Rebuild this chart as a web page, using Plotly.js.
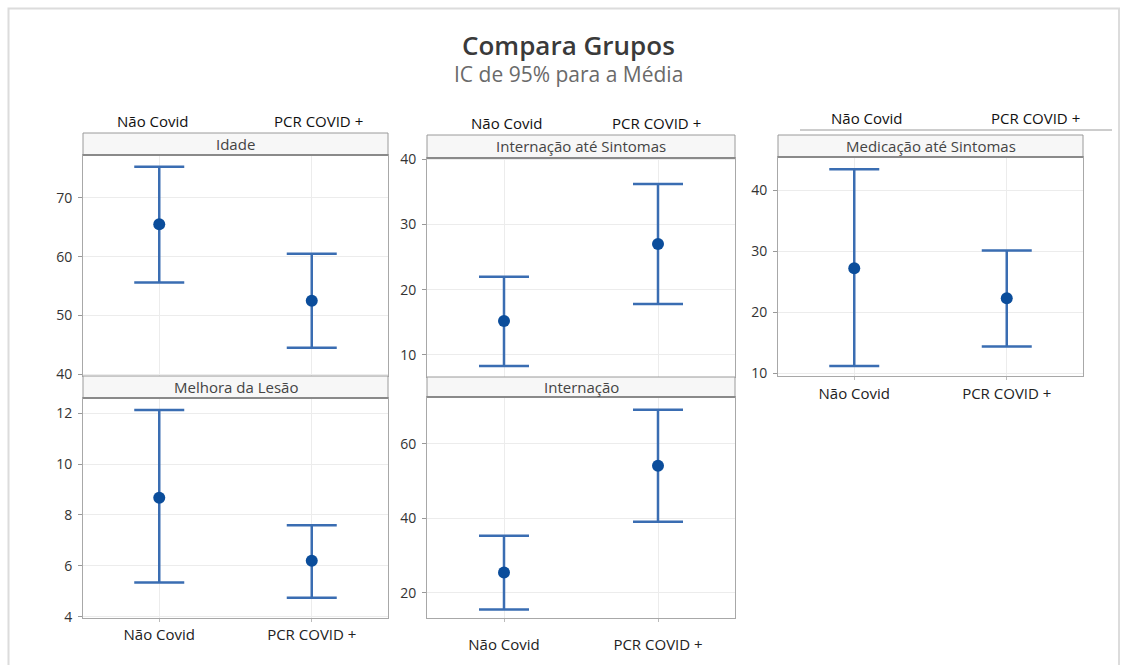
<!DOCTYPE html>
<html>
<head>
<meta charset="utf-8">
<script src="https://cdn.plot.ly/plotly-3.0.1.min.js"></script>
<style>html,body{margin:0;padding:0;background:#fff;}#chart{width:1123px;height:665px;}</style>
</head>
<body>
<div id="chart"></div>
<script>
// ---- data ----
const categories = ['Não Covid', 'PCR COVID +'];
const panelTitles = ['Idade', 'Internação até Sintomas', 'Medicação até Sintomas', 'Melhora da Lesão', 'Internação'];

const idadeMean  = [65.5, 52.5];
const idadeLower = [55.6, 44.5];
const idadeUpper = [75.3, 60.5];

const intSintMean  = [15.2, 27.0];
const intSintLower = [8.3, 17.8];
const intSintUpper = [22.0, 36.2];

const medSintMean  = [27.2, 22.3];
const medSintLower = [11.2, 14.4];
const medSintUpper = [43.4, 30.1];

const melhoraMean  = [8.68, 6.2];
const melhoraLower = [5.35, 4.75];
const melhoraUpper = [12.13, 7.6];

const internMean  = [25.4, 54.1];
const internLower = [15.5, 39.1];
const internUpper = [35.3, 69.2];

const idadeTicks   = [40, 50, 60, 70];
const intSintTicks = [10, 20, 30, 40];
const medSintTicks = [10, 20, 30, 40];
const melhoraTicks = [4, 6, 8, 10, 12];
const internTicks  = [20, 40, 60];

// ---- geometry helpers ----
const W = 1123, H = 665;
const fx = p => p / W;
const fy = p => 1 - p / H;

const panels = [
  {mean: idadeMean,   lo: idadeLower,   hi: idadeUpper,   ticks: idadeTicks,   range: [39.7, 77.3], x: [83, 388],  y: [155, 376], head: [133, 155], xlab: false},
  {mean: intSintMean, lo: intSintLower, hi: intSintUpper, ticks: intSintTicks, range: [6.6, 40.2],  x: [427, 735], y: [158, 377], head: [135, 158], xlab: false},
  {mean: medSintMean, lo: medSintLower, hi: medSintUpper, ticks: medSintTicks, range: [9.56, 45.4], x: [778, 1083], y: [157, 376], head: [135, 157], xlab: true, standoff: 1},
  {mean: melhoraMean, lo: melhoraLower, hi: melhoraUpper, ticks: melhoraTicks, range: [3.95, 12.6], x: [83, 388],  y: [398, 618], head: [376, 398], xlab: true, standoff: 0},
  {mean: internMean,  lo: internLower,  hi: internUpper,  ticks: internTicks,  range: [13.2, 72.6], x: [427, 735], y: [397, 618], head: [377, 397], xlab: true, standoff: 10}
];

const font = 'Open Sans, Noto Sans, sans-serif';
const barColor = '#3a6db2';
const dotColor = '#0b4d9b';

const traces = [];
const layout = {
  width: W, height: H, autosize: false,
  margin: {l: 0, r: 0, t: 0, b: 0},
  paper_bgcolor: '#ffffff', plot_bgcolor: '#ffffff',
  showlegend: false,
  font: {family: font, color: '#333'},
  shapes: [], annotations: []
};

panels.forEach((p, i) => {
  const n = i + 1;
  const xa = n === 1 ? 'x' : 'x' + n;
  const ya = n === 1 ? 'y' : 'y' + n;
  traces.push({
    type: 'scatter', mode: 'markers',
    x: categories, y: p.mean,
    xaxis: xa, yaxis: ya,
    marker: {size: 12, color: dotColor},
    error_y: {
      type: 'data', symmetric: false,
      array: p.hi.map((v, k) => v - p.mean[k]),
      arrayminus: p.mean.map((v, k) => v - p.lo[k]),
      color: barColor, thickness: 2.5, width: 25
    },
    hoverinfo: 'skip'
  });
  const xk = n === 1 ? 'xaxis' : 'xaxis' + n;
  const yk = n === 1 ? 'yaxis' : 'yaxis' + n;
  layout[xk] = {
    domain: [fx(p.x[0]), fx(p.x[1])], anchor: ya,
    type: 'category', range: [-0.5, 1.5],
    showgrid: true, gridcolor: '#ececec', gridwidth: 1,
    showline: true, mirror: true, linecolor: '#a8a8a8', linewidth: 1,
    zeroline: false, fixedrange: true,
    showticklabels: p.xlab,
    ticks: p.xlab ? 'outside' : '', ticklen: 3, tickcolor: '#bbb',
    ticklabelstandoff: p.standoff || 0,
    tickfont: {size: 15, color: '#222', family: font}
  };
  layout[yk] = {
    domain: [fy(p.y[1]), fy(p.y[0])], anchor: xa,
    range: p.range, tickvals: p.ticks,
    showgrid: true, gridcolor: '#ececec', gridwidth: 1,
    showline: true, mirror: true, linecolor: '#a8a8a8', linewidth: 1,
    zeroline: false, fixedrange: true,
    ticks: 'outside', ticklen: 4, tickcolor: '#999',
    ticklabelstandoff: 3,
    tickfont: {size: 14, color: '#333', family: font}
  };
  // header strip
  layout.shapes.push({
    type: 'rect', xref: 'paper', yref: 'paper',
    x0: fx(p.x[0]), x1: fx(p.x[1]), y0: fy(p.head[1]), y1: fy(p.head[0]),
    fillcolor: '#f7f7f7', line: {color: '#9a9a9a', width: 1}
  });
  layout.shapes.push({
    type: 'line', xref: 'paper', yref: 'paper',
    x0: fx(p.x[0]), x1: fx(p.x[1]), y0: fy(p.head[1]), y1: fy(p.head[1]),
    line: {color: '#8a8a8a', width: 2}
  });
  layout.annotations.push({
    xref: 'paper', yref: 'paper',
    x: fx((p.x[0] + p.x[1]) / 2), y: fy((p.head[0] + p.head[1]) / 2),
    text: panelTitles[i], showarrow: false,
    xanchor: 'center', yanchor: 'middle',
    font: {size: 15, color: '#444', family: font}
  });
});

// category labels placed above the top row panels
const topLabelPos = [
  {y: 121, xs: [152, 318]},
  {y: 123, xs: [506, 656]},
  {y: 118, xs: [866, 1035]}
];
topLabelPos.forEach(t => {
  categories.forEach((c, k) => {
    layout.annotations.push({
      xref: 'paper', yref: 'paper', x: fx(t.xs[k]), y: fy(t.y),
      text: c, showarrow: false, xanchor: 'center', yanchor: 'middle',
      font: {size: 15, color: '#111', family: font}
    });
  });
});
layout.shapes.push({
  type: 'line', xref: 'paper', yref: 'paper',
  x0: fx(800), x1: fx(1112), y0: fy(130), y1: fy(130),
  line: {color: '#9a9a9a', width: 1}
});

// outer frame
layout.shapes.push({
  type: 'path', xref: 'paper', yref: 'paper',
  path: `M ${fx(8.5)} ${fy(700)} L ${fx(8.5)} ${fy(8.5)} L ${fx(1119)} ${fy(8.5)} L ${fx(1119)} ${fy(700)}`,
  line: {color: '#dcdcdc', width: 2}
});

// titles
layout.annotations.push({
  xref: 'paper', yref: 'paper', x: fx(568), y: fy(45),
  text: 'Compara Grupos', showarrow: false, xanchor: 'center', yanchor: 'middle',
  font: {size: 26, color: '#3a3a3a', family: font, weight: 600}
});
layout.annotations.push({
  xref: 'paper', yref: 'paper', x: fx(568), y: fy(74),
  text: 'IC de 95% para a Média', showarrow: false, xanchor: 'center', yanchor: 'middle',
  font: {size: 21, color: '#6a6a6a', family: font}
});

Plotly.newPlot('chart', traces, layout, {staticPlot: true, displayModeBar: false});
</script>
</body>
</html>
